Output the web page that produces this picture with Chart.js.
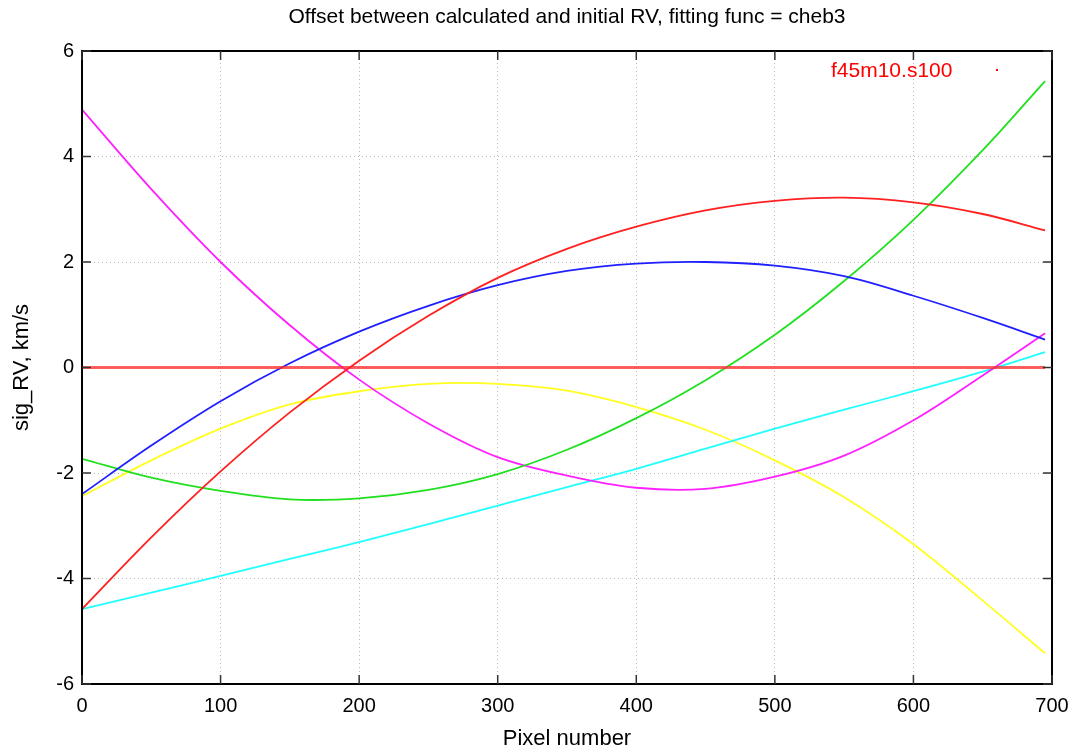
<!DOCTYPE html>
<html>
<head>
<meta charset="utf-8">
<script src="https://cdn.jsdelivr.net/npm/chart.js@4.4.1/dist/chart.umd.min.js"></script>
<style>
  html, body { margin: 0; padding: 0; background: #fff; }
  #wrap { width: 1071px; height: 747px; }
</style>
</head>
<body>
<div id="wrap"><canvas id="chart" width="1071" height="747"></canvas></div>
<script>
// pixel positions where the fits were sampled
const pixels = [0, 50, 100, 150, 200, 250, 300, 350, 400, 450, 500, 550, 600, 650, 695];

// offsets in km/s
const redFit     = [-4.58, -3.22, -1.97, -0.85, 0.13, 0.98, 1.70, 2.25, 2.67, 2.98, 3.16, 3.22, 3.13, 2.91, 2.60];
const blueFit    = [-2.40, -1.48, -0.64, 0.08, 0.68, 1.17, 1.56, 1.83, 1.97, 2.00, 1.93, 1.73, 1.36, 0.94, 0.53];
const greenFit   = [-1.73, -2.09, -2.34, -2.50, -2.48, -2.32, -2.02, -1.56, -0.96, -0.24, 0.62, 1.64, 2.80, 4.12, 5.43];
const magentaFit = [4.89, 3.38, 2.00, 0.80, -0.23, -1.06, -1.70, -2.05, -2.28, -2.30, -2.07, -1.67, -1.00, -0.15, 0.65];
const cyanFit    = [-4.58, -4.27, -3.95, -3.63, -3.31, -2.97, -2.62, -2.27, -1.92, -1.54, -1.16, -0.80, -0.45, -0.08, 0.29];
const yellowFit  = [-2.44, -1.76, -1.16, -0.70, -0.45, -0.31, -0.31, -0.44, -0.75, -1.18, -1.76, -2.46, -3.35, -4.42, -5.42];

const zeroPixels = [0, 695];
const zeroLine   = [0, 0];

const xTicks = [0, 100, 200, 300, 400, 500, 600, 700];
const yTicks = [-6, -4, -2, 0, 2, 4, 6];

const titleText = 'Offset between calculated and initial RV, fitting func = cheb3';
const legendText = 'f45m10.s100';

const sans = '"Liberation Sans", Arial, sans-serif';
Chart.defaults.font.family = sans;
Chart.defaults.color = '#000';

function pts(xs, ys) {
  return xs.map((x, i) => ({ x: x, y: ys[i] }));
}

function curve(data, color) {
  return {
    data: pts(pixels, data),
    borderColor: color,
    borderWidth: 1.8,
    pointRadius: 0,
    tension: 0.35,
    fill: false
  };
}

// gnuplot style frame, inward ticks, title and key
const gnuplotFrame = {
  id: 'gnuplotFrame',
  afterDraw(chart) {
    const { ctx, chartArea: a, scales } = chart;
    ctx.save();
    ctx.strokeStyle = '#000';
    ctx.lineWidth = 2;
    ctx.strokeRect(a.left, a.top, a.right - a.left, a.bottom - a.top);

    ctx.lineWidth = 1.5;
    ctx.strokeStyle = '#333';
    ctx.beginPath();
    xTicks.forEach(v => {
      const px = scales.x.getPixelForValue(v);
      ctx.moveTo(px, a.bottom); ctx.lineTo(px, a.bottom - 9);
      ctx.moveTo(px, a.top); ctx.lineTo(px, a.top + 9);
    });
    yTicks.forEach(v => {
      const py = scales.y.getPixelForValue(v);
      ctx.moveTo(a.left, py); ctx.lineTo(a.left + 9, py);
      ctx.moveTo(a.right, py); ctx.lineTo(a.right - 9, py);
    });
    ctx.stroke();

    ctx.fillStyle = '#000';
    ctx.font = '21px ' + sans;
    ctx.textAlign = 'center';
    ctx.textBaseline = 'middle';
    ctx.fillText(titleText, (a.left + a.right) / 2, 17);

    ctx.fillStyle = '#ff0000';
    ctx.font = '21px ' + sans;
    ctx.textAlign = 'left';
    ctx.fillText(legendText, 831, 71);
    ctx.fillRect(996, 69, 2, 2);
    ctx.restore();
  }
};

new Chart(document.getElementById('chart'), {
  type: 'line',
  data: {
    datasets: [
      {
        data: pts(zeroPixels, zeroLine),
        borderColor: 'rgba(255, 40, 40, 0.75)',
        borderWidth: 3,
        pointRadius: 0,
        fill: false
      },
      curve(redFit, '#ff2020'),
      curve(blueFit, '#2020ff'),
      curve(greenFit, '#20e020'),
      curve(magentaFit, '#ff20ff'),
      curve(cyanFit, '#20ffff'),
      curve(yellowFit, '#ffff20')
    ]
  },
  options: {
    responsive: false,
    animation: false,
    layout: { padding: { top: 51, right: 19, left: 0, bottom: 0 } },
    plugins: {
      legend: { display: false },
      tooltip: { enabled: false }
    },
    scales: {
      x: {
        type: 'linear',
        min: 0,
        max: 700,
        afterBuildTicks: s => { s.ticks = xTicks.map(v => ({ value: v })); },
        afterFit: s => {
          s.height = 63;
          s.paddingLeft = 0;
          s.paddingRight = 0;
        },
        grid: { color: '#b8b8b8', drawTicks: false },
        border: { display: false, dash: [1, 3] },
        ticks: { padding: 10, font: { size: 20 } },
        title: {
          display: true,
          text: 'Pixel number',
          font: { size: 22, lineHeight: 1 },
          padding: { top: 0, bottom: -3 }
        }
      },
      y: {
        min: -6,
        max: 6,
        afterBuildTicks: s => { s.ticks = yTicks.map(v => ({ value: v })); },
        afterFit: s => { s.width = 82; },
        grid: { color: '#b8b8b8', drawTicks: false },
        border: { display: false, dash: [1, 3] },
        ticks: { padding: 8, font: { size: 20 } },
        title: {
          display: true,
          text: 'sig_RV, km/s',
          font: { size: 22, lineHeight: 1 },
          padding: { top: 11, bottom: 0 }
        }
      }
    }
  },
  plugins: [gnuplotFrame]
});
</script>
</body>
</html>
